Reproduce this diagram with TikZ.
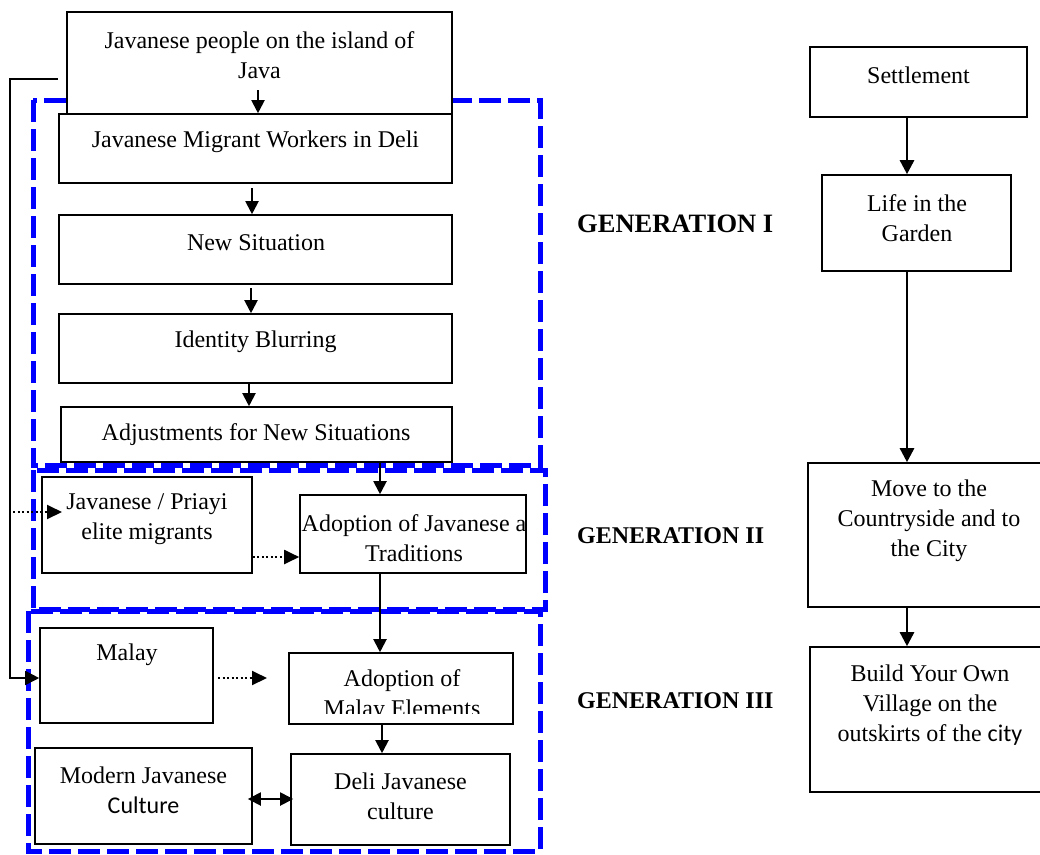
\documentclass[tikz,border=0pt]{standalone}
\usepackage{fontspec}
\setmainfont{Liberation Serif}
\newfontfamily\calib{Carlito}
\usetikzlibrary{arrows.meta,fit,calc}
\begin{document}
\begin{tikzpicture}[x=1pt,y=-1pt,
  box/.style={draw, line width=1.6pt, fill=white, inner sep=0pt},
  txt/.style={font=\fontsize{24}{30}\selectfont, align=center, inner sep=0pt, yshift=-2pt},
  gen/.style={font=\fontsize{24}{30}\selectfont\bfseries, anchor=west, inner sep=0pt},
  arr/.style={line width=2pt, -{Triangle[width=13pt,length=13pt]}},
  darr/.style={line width=2pt, {Triangle[width=13pt,length=13pt]}-{Triangle[width=13pt,length=13pt]}},
  rarr/.style={line width=2.6pt, -{Triangle[width=14pt,length=14pt]}},
  dotarr/.style={line width=2pt, dash pattern=on 2pt off 2.5pt, -{Triangle[width=14pt,length=15pt]}},
  gbox/.style={draw={rgb,255:red,0;green,0;blue,255}, line width=5pt, dash pattern=on 22pt off 7pt, line join=miter}
]
\useasboundingbox (0,0) rectangle (1040,854);

% generation frames
\draw[gbox] (33,100) rectangle (540,465);
\draw[gbox] (33,470) rectangle (545,609);
\draw[gbox] (28,611) rectangle (540,851);

% left column boxes
\node[box, fit={(67,12)(452,114)}] (javaB) {};
\node[box, fit={(59,114)(452,183)}] (migB) {};
\node[box, fit={(59,215)(452,284)}] (nsB) {};
\node[box, fit={(59,314)(452,383)}] (idB) {};
\node[box, fit={(61,407)(452,462)}] (adjB) {};
\node[box, fit={(42,477)(252,573)}] (priB) {};
\node[box, fit={(300,495)(526,573)}] (adoJB) {};
\node[box, fit={(40,628)(213,723)}] (malayB) {};
\node[box, fit={(289,653)(513,724)}] (adoMB) {};
\node[box, fit={(35,748)(252,844)}] (modB) {};
\node[box, fit={(291,754)(510,845)}] (deliB) {};

% right column boxes
\node[box, fit={(810,47)(1027,117)}] (setB) {};
\node[box, fit={(822,175)(1011,271)}] (lifeB) {};
\node[box, fit={(808,463)(1050,607)}] (moveB) {};
\node[box, fit={(810,647)(1050,792)}] (buildB) {};

% texts
\node[txt] (javaT) at (259.5,53) {Javanese people on the island of\\Java};
\node[txt] (migT) at (255.5,140) {Javanese Migrant Workers in Deli};
\node[txt] (nsT) at (256,241) {New Situation};
\node[txt] (idT) at (255.5,340) {Identity Blurring};
\node[txt] (adjT) at (256,433) {Adjustments for New Situations};
\node[txt] (priT) at (147,517) {Javanese / Priayi\\elite migrants};
\begin{scope}
  \clip (301,496) rectangle (525,572);
  \node[txt] (adoJT) at (414,536.5) {Adoption of Javanese a\\Traditions};
\end{scope}
\node[txt] (malayT) at (127,653) {Malay};
\begin{scope}
  \clip (290,654) rectangle (512,713);
  \node[txt] (adoMT) at (402,694) {Adoption of\\Malay Elements};
\end{scope}
\node[txt] (modT) at (143.5,788) {Modern Javanese\\{\calib Culture}};
\node[txt] (deliT) at (400.5,794) {Deli Javanese\\culture};

\node[txt] (setT) at (918.5,73) {Settlement};
\node[txt] (lifeT) at (917,216) {Life in the\\Garden};
\node[txt] (moveT) at (929,518.5) {Move to the\\Countryside and to\\the City};
\node[txt] (buildT) at (930,703) {Build Your Own\\Village on the\\outskirts of the {\calib city}};

\node[gen, font=\fontsize{26.5}{32}\selectfont\bfseries] (g1) at (577,224) {GENERATION I};
\node[gen] (g2) at (577,536) {GENERATION II};
\node[gen] (g3) at (577,701) {GENERATION III};

% helper coordinates
\coordinate (a1) at (258,90);
\coordinate (a2) at (252,188);
\coordinate (a3) at (251,288);
\coordinate (a4) at (249,0);
\coordinate (a5) at (380,0);
\coordinate (a6) at (382,0);
\coordinate (rx) at (907,0);
\coordinate (d2) at (0,557);
\coordinate (d3) at (0,678);
\coordinate (d4) at (0,799);
\coordinate (jl) at (58,79);
\coordinate (p1) at (13,512);
\coordinate (p2) at (62,512);
\coordinate (q1) at (218,678);
\coordinate (q2) at (267,678);

% left column connectors
\draw[arr] (a1) -- (a1 |- migB.north);
\draw[arr] (a2) -- (a2 |- nsB.north);
\draw[arr] (a3) -- (a3 |- idB.north);
\draw[arr] (idB.south -| a4) -- (adjB.north -| a4);
\draw[arr] (adjB.south -| a5) -- (adoJB.north -| a5);
\draw[arr] (adoJB.south -| a5) -- (adoMB.north -| a5);
\draw[arr] (adoMB.south -| a6) -- (deliB.north -| a6);
\draw[darr] ([xshift=-5pt]modB.east |- d4) -- ([xshift=3pt]deliB.west |- d4);
\draw[line width=1.6pt, -{Triangle[width=14pt,length=14pt]}] (jl) -- ++(-48,0) |- (malayB.west |- d3);

% dotted connectors
\draw[dotarr] (p1) -- (p2);
\draw[dotarr] (priB.east |- d2) -- (adoJB.west |- d2);
\draw[dotarr] (q1) -- (q2);

% right column connectors
\draw[rarr] (setB.south -| rx) -- (lifeB.north -| rx);
\draw[rarr] (lifeB.south -| rx) -- (moveB.north -| rx);
\draw[rarr] (moveB.south -| rx) -- (buildB.north -| rx);
\end{tikzpicture}
\end{document}
